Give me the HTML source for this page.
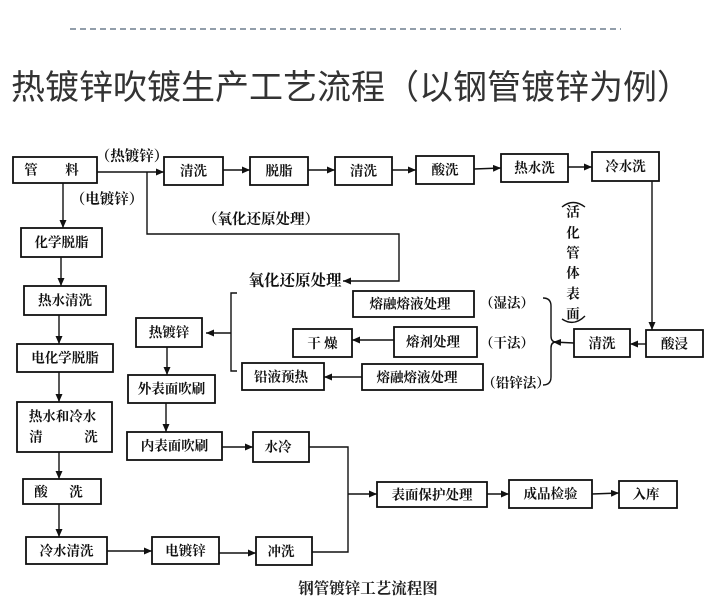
<!DOCTYPE html>
<html>
<head>
<meta charset="utf-8">
<style>
html,body{margin:0;padding:0;background:#fff;}
svg{display:block;}
.b{fill:#fff;stroke:#111;stroke-width:1.8;}
.l{fill:none;stroke:#111;stroke-width:1.4;}
.t{font-family:"Liberation Serif","Noto Serif CJK SC",serif;font-weight:700;font-size:13.5px;fill:#111;text-anchor:middle;dominant-baseline:central;}
.s{font-family:"Liberation Serif","Noto Serif CJK SC",serif;font-weight:700;font-size:13.5px;fill:#111;text-anchor:middle;dominant-baseline:central;}
</style>
</head>
<body>
<svg width="713" height="605" viewBox="0 0 713 605" xmlns="http://www.w3.org/2000/svg">
<defs>
<marker id="a" markerUnits="userSpaceOnUse" markerWidth="8" markerHeight="7" refX="8" refY="3.5" orient="auto">
<path d="M0,0 L8,3.5 L0,7 Z" fill="#111"/>
</marker>
</defs>

<!-- header -->
<line x1="70" y1="29" x2="621" y2="29" stroke="#6f7f8e" stroke-width="1.6" stroke-dasharray="6,4"/>
<text x="351" y="88" font-family="'Liberation Sans','Noto Sans CJK SC',sans-serif" font-weight="400" font-size="34" fill="#333" text-anchor="middle" dominant-baseline="central">热镀锌吹镀生产工艺流程（以钢管镀锌为例）</text>

<!-- boxes -->
<rect class="b" x="13" y="157" width="84" height="26"/>
<text class="t" x="31" y="170">管</text><text class="t" x="72" y="170">料</text>
<rect class="b" x="164" y="157" width="59" height="28"/><text class="t" x="193.5" y="171">清洗</text>
<rect class="b" x="250" y="157" width="58" height="28"/><text class="t" x="279" y="171">脱脂</text>
<rect class="b" x="335" y="157" width="57" height="28"/><text class="t" x="363.5" y="171">清洗</text>
<rect class="b" x="416" y="156" width="58" height="28"/><text class="t" x="445" y="170">酸洗</text>
<rect class="b" x="501" y="154" width="67" height="28"/><text class="t" x="534.5" y="168">热水洗</text>
<rect class="b" x="592" y="152" width="67" height="29"/><text class="t" x="625.5" y="166.5">冷水洗</text>

<rect class="b" x="646" y="330" width="57" height="27"/><text class="t" x="674.5" y="344">酸浸</text>
<rect class="b" x="574" y="329" width="56" height="28"/><text class="t" x="602" y="343.5">清洗</text>

<rect class="b" x="353" y="291" width="121" height="26"/><text class="t" x="410" y="304">熔融熔液处理</text>
<rect class="b" x="394" y="327" width="83" height="30"/><text class="t" x="433" y="342">熔剂处理</text>
<rect class="b" x="362" y="364" width="121" height="26"/><text class="t" x="417" y="377.5">熔融熔液处理</text>
<rect class="b" x="293" y="329" width="59" height="28"/><text class="t" x="322.5" y="343.5">干 燥</text>
<rect class="b" x="242" y="363" width="82" height="27"/><text class="t" x="281" y="377">铅液预热</text>

<rect class="b" x="136" y="318" width="66" height="29"/><text class="t" x="169" y="332.5">热镀锌</text>
<rect class="b" x="128" y="375" width="87" height="28"/><text class="t" x="171.5" y="389">外表面吹刷</text>
<rect class="b" x="127" y="432" width="95" height="28"/><text class="t" x="174.5" y="446">内表面吹刷</text>
<rect class="b" x="253" y="432" width="56" height="30"/><text class="t" x="278" y="447">水冷</text>
<rect class="b" x="152" y="537" width="67" height="27"/><text class="t" x="185.5" y="551">电镀锌</text>
<rect class="b" x="256" y="537" width="56" height="28"/><text class="t" x="281" y="551.5">冲洗</text>

<rect class="b" x="377" y="482" width="110" height="25"/><text class="t" x="432" y="495">表面保护处理</text>
<rect class="b" x="509" y="480" width="83" height="28"/><text class="t" x="550.5" y="494">成品检验</text>
<rect class="b" x="619" y="481" width="58" height="27"/><text class="t" x="646" y="494.5">入库</text>

<rect class="b" x="21" y="228" width="81" height="29"/><text class="t" x="61.5" y="242.5">化学脱脂</text>
<rect class="b" x="24" y="286" width="82" height="29"/><text class="t" x="65" y="300.5">热水清洗</text>
<rect class="b" x="17" y="344" width="96" height="28"/><text class="t" x="65" y="358">电化学脱脂</text>
<rect class="b" x="17" y="402" width="95" height="50"/>
<text class="t" x="62.5" y="416.5">热水和冷水</text>
<text class="t" x="36" y="437">清</text><text class="t" x="91" y="437">洗</text>
<rect class="b" x="23" y="479" width="78" height="25"/>
<text class="t" x="41" y="492">酸</text><text class="t" x="76" y="492">洗</text>
<rect class="b" x="26" y="537" width="81" height="27"/><text class="t" x="66.5" y="551">冷水清洗</text>

<!-- labels -->
<text class="s" x="132" y="157" style="font-size:14.5px">（热镀锌）</text>
<text class="s" x="107" y="200" style="font-size:14.5px">（电镀锌）</text>
<text class="t" x="261" y="220" style="font-size:14.5px">（氧化还原处理）</text>
<text class="t" x="295" y="281" style="font-size:15.5px">氧化还原处理</text>
<text class="s" x="507" y="303">（湿法）</text>
<text class="s" x="507" y="343">（干法）</text>
<text class="s" x="516" y="383">（铅锌法）</text>

<!-- vertical text -->
<text class="s" x="573" y="212">活</text>
<text class="s" x="573" y="233">化</text>
<text class="s" x="573" y="253">管</text>
<text class="s" x="573" y="273">体</text>
<text class="s" x="573" y="294">表</text>
<text class="s" x="573" y="314">面</text>
<path class="l" d="M562,207 Q573,198 585,207"/>
<path class="l" d="M562,319 Q574,327 585,316"/>

<!-- arrows -->
<line class="l" x1="97" y1="172" x2="164" y2="172" marker-end="url(#a)"/>
<line class="l" x1="63" y1="183" x2="63" y2="228" marker-end="url(#a)"/>
<line class="l" x1="61" y1="257" x2="61" y2="286" marker-end="url(#a)"/>
<line class="l" x1="59" y1="315" x2="59" y2="344" marker-end="url(#a)"/>
<line class="l" x1="59" y1="372" x2="59" y2="402" marker-end="url(#a)"/>
<line class="l" x1="59" y1="452" x2="59" y2="479" marker-end="url(#a)"/>
<line class="l" x1="59" y1="504" x2="59" y2="537" marker-end="url(#a)"/>
<line class="l" x1="107" y1="551" x2="152" y2="551" marker-end="url(#a)"/>
<line class="l" x1="219" y1="553" x2="256" y2="553" marker-end="url(#a)"/>
<line class="l" x1="223" y1="170" x2="250" y2="170" marker-end="url(#a)"/>
<line class="l" x1="308" y1="170" x2="335" y2="170" marker-end="url(#a)"/>
<line class="l" x1="392" y1="170" x2="416" y2="170" marker-end="url(#a)"/>
<line class="l" x1="474" y1="169" x2="501" y2="168" marker-end="url(#a)"/>
<line class="l" x1="568" y1="167" x2="592" y2="167" marker-end="url(#a)"/>
<line class="l" x1="652" y1="181" x2="652" y2="330" marker-end="url(#a)"/>
<line class="l" x1="646" y1="344" x2="630" y2="344" marker-end="url(#a)"/>
<line class="l" x1="574" y1="343" x2="553" y2="342" marker-end="url(#a)"/>
<line class="l" x1="394" y1="340" x2="352" y2="340" marker-end="url(#a)"/>
<line class="l" x1="362" y1="377" x2="324" y2="377" marker-end="url(#a)"/>
<line class="l" x1="231" y1="333" x2="206" y2="333" marker-end="url(#a)"/>
<line class="l" x1="167" y1="347" x2="167" y2="375" marker-end="url(#a)"/>
<line class="l" x1="166" y1="403" x2="166" y2="432" marker-end="url(#a)"/>
<line class="l" x1="222" y1="447" x2="253" y2="447" marker-end="url(#a)"/>
<line class="l" x1="348" y1="494" x2="377" y2="494" marker-end="url(#a)"/>
<line class="l" x1="487" y1="494" x2="509" y2="494" marker-end="url(#a)"/>
<line class="l" x1="592" y1="494" x2="619" y2="493" marker-end="url(#a)"/>

<path class="l" d="M147,172 L147,234 L399,234 L399,281 L343,281" marker-end="url(#a)"/>
<path class="l" d="M309,447 L348,447 L348,552 L312,552"/>

<!-- brackets -->
<path class="l" d="M237,293 L231,293 L231,371 L237,371"/>
<path class="l" d="M543,298 Q551,298 551,306 L551,336 Q551,342 556,342 Q551,342 551,348 L551,377 Q551,385 543,385"/>

<!-- caption -->
<text x="368" y="589" font-family="'Liberation Serif','Noto Serif CJK SC',serif" font-weight="700" font-size="15.5" fill="#222" text-anchor="middle" dominant-baseline="central">钢管镀锌工艺流程图</text>
</svg>
</body>
</html>
